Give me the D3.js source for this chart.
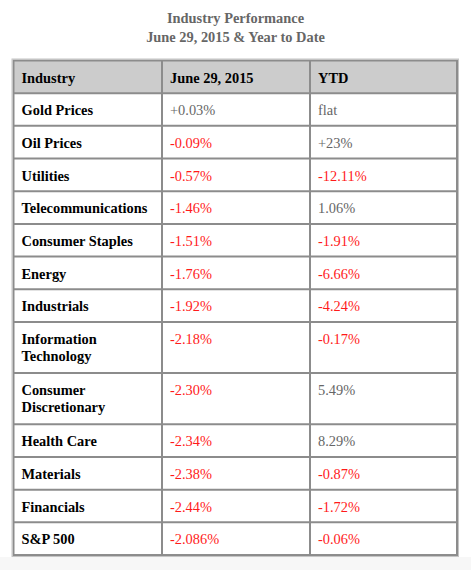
<!DOCTYPE html>
<html>
<head>
<meta charset="utf-8">
<script src="https://cdn.jsdelivr.net/npm/d3@7"></script>
<style>
  html, body { margin: 0; padding: 0; background: #ffffff; }
  svg { display: block; }
</style>
</head>
<body>
<svg id="chart" width="471" height="570"></svg>
<script>
const titleLines = ["Industry Performance", "June 29, 2015 & Year to Date"];
const headers = ["Industry", "June 29, 2015", "YTD"];
const industries = ["Gold Prices", "Oil Prices", "Utilities", "Telecommunications", "Consumer Staples",
  "Energy", "Industrials", "Information Technology", "Consumer Discretionary", "Health Care",
  "Materials", "Financials", "S&P 500"];
const june = ["+0.03%", "-0.09%", "-0.57%", "-1.46%", "-1.51%", "-1.76%", "-1.92%", "-2.18%",
  "-2.30%", "-2.34%", "-2.38%", "-2.44%", "-2.086%"];
const ytd = ["flat", "+23%", "-12.11%", "1.06%", "-1.91%", "-6.66%", "-4.24%", "-0.17%",
  "5.49%", "8.29%", "-0.87%", "-1.72%", "-0.06%"];

const W = 471, H = 570;
const svg = d3.select("#chart");
const FONT = "'Liberation Serif', 'Times New Roman', serif";
const FS = 14.4;

// background strip at bottom
svg.append("rect").attr("x", 0).attr("y", 557).attr("width", W).attr("height", H - 557).attr("fill", "#f7f7f7");

// title
svg.append("g").selectAll("text").data(titleLines).join("text")
  .attr("x", 235.5)
  .attr("y", (d, i) => 23 + i * 18.5)
  .attr("text-anchor", "middle")
  .attr("font-family", FONT).attr("font-weight", "bold").attr("font-size", FS)
  .attr("fill", "#666666")
  .text(d => d);

// columns
const colEdges = [13.5, 162, 310, 457];
const xCol = d3.scaleOrdinal().domain([0, 1, 2]).range(colEdges.slice(0, 3));
const colW = i => colEdges[i + 1] - colEdges[i];
const pad = 8;

// wrap labels
const measurer = svg.append("text").attr("font-family", FONT).attr("font-weight", "bold").attr("font-size", FS);
function wrap(label, maxW) {
  const words = label.split(" ");
  const lines = [];
  let cur = "";
  words.forEach(w => {
    const test = cur ? cur + " " + w : w;
    measurer.text(test);
    if (measurer.node().getComputedTextLength() > maxW && cur) { lines.push(cur); cur = w; }
    else cur = test;
  });
  if (cur) lines.push(cur);
  return lines;
}

const rows = [{ cells: headers.map(h => [h]), header: true }]
  .concat(industries.map((ind, i) => ({
    cells: [wrap(ind, colW(0) - 2 * pad), [june[i]], [ytd[i]]],
    header: false
  })));
measurer.remove();

const baseH = 32.68, lineH = 18.5, lineGap = 17;
let yAcc = 60.5;
rows.forEach(r => {
  r.lines = d3.max(r.cells, c => c.length);
  r.h = baseH + (r.lines - 1) * lineH;
  r.y = yAcc;
  yAcc += r.h;
});
const tableTop = rows[0].y, tableBottom = yAcc;

// header background
svg.append("rect")
  .attr("x", colEdges[0]).attr("y", rows[0].y)
  .attr("width", colEdges[3] - colEdges[0]).attr("height", rows[0].h)
  .attr("fill", "#cccccc");

// cell text
const rowG = svg.append("g").selectAll("g").data(rows).join("g");
rowG.each(function (r) {
  const g = d3.select(this);
  r.cells.forEach((lines, ci) => {
    const isLabel = ci === 0 || r.header;
    let color = "#000000";
    if (!isLabel) color = lines[0].startsWith("-") ? "#ff1a1a" : "#666666";
    g.selectAll(null).data(lines).join("text")
      .attr("x", xCol(ci) + pad)
      .attr("y", (d, li) => r.y + 22 + li * lineGap)
      .attr("font-family", FONT)
      .attr("font-weight", isLabel ? "bold" : "normal")
      .attr("font-size", FS)
      .attr("fill", color)
      .text(d => d);
  });
});

// grid lines
const lineColor = "#8c8c8c";
const grid = svg.append("g").attr("stroke", lineColor).attr("stroke-width", 2);
rows.slice(1).forEach(r => {
  grid.append("line").attr("x1", colEdges[0]).attr("x2", colEdges[3]).attr("y1", r.y).attr("y2", r.y);
});
[1, 2].forEach(i => {
  grid.append("line").attr("x1", colEdges[i]).attr("x2", colEdges[i]).attr("y1", tableTop).attr("y2", tableBottom);
});
// outer border
svg.append("rect")
  .attr("x", colEdges[0]).attr("y", tableTop)
  .attr("width", colEdges[3] - colEdges[0]).attr("height", tableBottom - tableTop)
  .attr("fill", "none").attr("stroke", lineColor).attr("stroke-width", 2);
svg.append("rect")
  .attr("x", colEdges[0] - 1.5).attr("y", tableTop - 1.5)
  .attr("width", colEdges[3] - colEdges[0] + 3).attr("height", tableBottom - tableTop + 3)
  .attr("fill", "none").attr("stroke", "#c4c4c4").attr("stroke-width", 1);
</script>
</body>
</html>
